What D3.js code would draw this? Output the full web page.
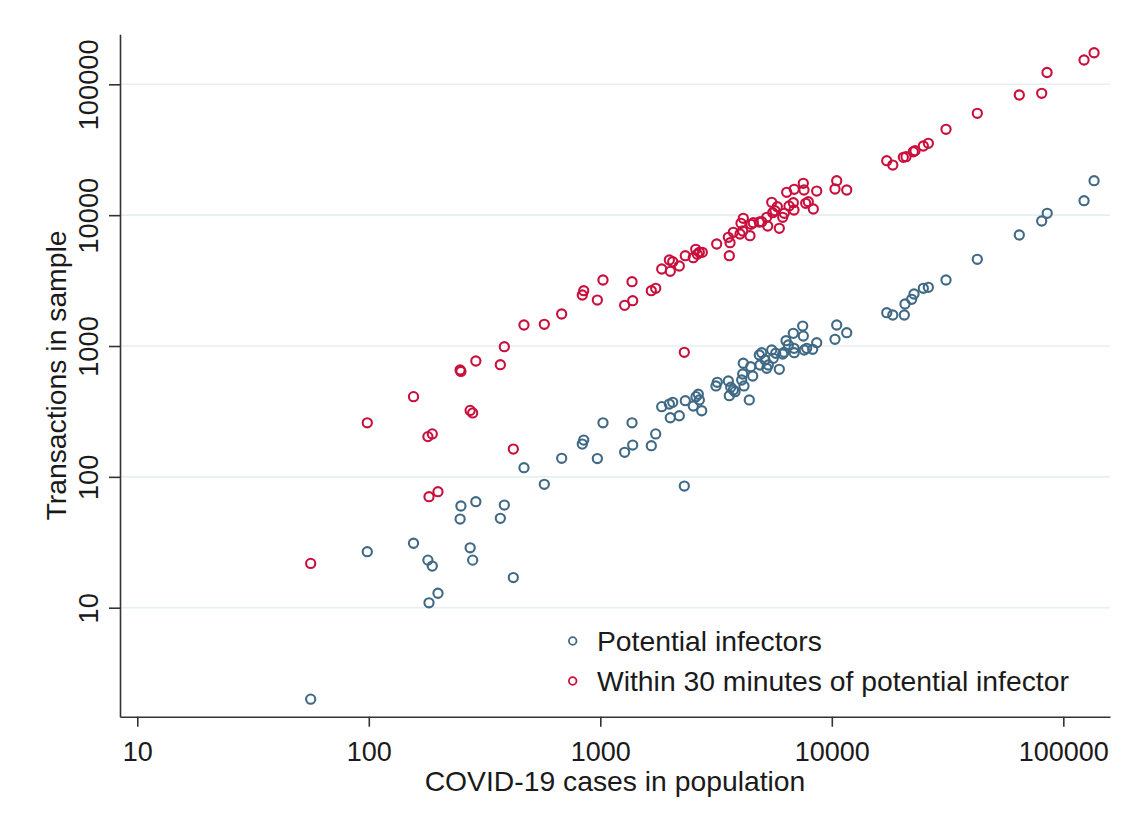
<!DOCTYPE html>
<html>
<head>
<meta charset="utf-8">
<script src="https://cdn.jsdelivr.net/npm/d3@7"></script>
<style>
  html, body { margin: 0; padding: 0; background: #ffffff; }
  svg { display: block; }
  text { font-family: "Liberation Sans", Arial, Helvetica, sans-serif; fill: #1a1a1a; }
</style>
</head>
<body>
<svg id="chart" width="1134" height="827"></svg>
<script>
// ---- data -------------------------------------------------------------
// Potential infectors: COVID-19 cases in population vs. transactions in sample
const infectorCases = [
  56.1, 98.5, 156, 180, 188, 182, 199, 248, 250, 274, 281, 290, 370, 385, 421, 468, 573, 681,
  836, 848, 971, 1027, 1274, 1380, 1371, 1661, 1735, 1842, 2006, 1987, 2055, 2194, 2329, 2306,
  2521, 2590, 2650, 2677, 2742, 3160, 3201, 3573, 3608, 3659, 3755, 3819, 4081, 4122, 4146, 4175,
  4401, 4553, 4463, 4863, 4897, 4981, 5146, 5234, 5318, 5501, 5588, 5724, 5933, 6137, 6216, 6342,
  6488, 6819, 6866, 6880, 7486, 7531, 7606, 7790, 8270, 8606, 10500, 10322, 11600,
  17270, 18340, 20570, 20710, 22130, 22650, 24850, 26120, 31140, 42510, 64540, 80660, 85200,
  122900, 135800
];
const infectorTransactions = [
  2.0, 26.8, 31.1, 23.1, 20.8, 10.9, 12.9, 47.6, 59.9, 28.7, 23.1, 64.6, 48.2, 60.9, 17.0, 117.5, 87.7, 138.6,
  178, 191, 138, 259, 154, 175, 259, 173, 213, 344, 283, 360, 371, 293, 382, 85.1,
  348, 410, 428, 387, 320, 495, 528, 540, 417, 484, 461, 448, 550, 611, 738, 495,
  387, 590, 695, 854, 716, 889, 782, 676, 716, 932, 805, 880, 664, 869, 895, 1098,
  1018, 1250, 960, 889, 1421, 1192, 932, 960, 944, 1060, 1447, 1125, 1264,
  1797, 1726, 1726, 2094, 2275, 2497, 2761, 2810, 3194, 4598, 7053, 9023, 10330,
  12900, 18340
];

// Transactions within 30 minutes of a potential infector
const nearbyCases = [
  56.1, 98.5, 156, 180, 188, 182, 199, 248, 250, 274, 281, 290, 370, 385, 421, 468, 573, 681,
  836, 848, 971, 1027, 1274, 1380, 1371, 1661, 1735, 1842, 2006, 1987, 2055, 2194, 2329, 2306,
  2521, 2583, 2624, 2677, 2758, 3182, 3573, 3634, 3608, 3755, 4013, 4053, 4146, 4122, 4432, 4477,
  4580, 4863, 4981, 5234, 5287, 5501, 5555, 5683, 5816, 5933, 6137, 6235, 6386, 6534, 6819, 6866,
  6880, 7531, 7583, 7713, 7915, 8320, 8606, 10500, 10322, 11600,
  17270, 18340, 20370, 20920, 22490, 22880, 24850, 26120, 31140, 42510, 64540, 80660, 85050,
  122900, 135800
];
const nearbyTransactions = [
  21.8, 259, 410, 203, 213, 70.5, 77.0, 656, 639, 322, 308, 768, 720, 988, 163, 1447, 1465, 1756,
  2454, 2646, 2246, 3194, 2046, 2219, 3100, 2646, 2761, 3876, 3723, 4543, 4408, 4087, 4899, 895,
  4730, 5483, 5021, 5202, 5202, 6020, 6773, 6157, 4899, 7395, 7177, 8664, 9461, 7569, 6966, 8512,
  8756, 8866, 8913, 9629, 8260, 12540, 10440, 10810, 11600, 7934, 9629, 10330, 14950, 11750, 12450, 10950,
  15760, 17520, 15570, 12320, 12670, 11140, 15290, 18340, 15840, 15570,
  26070, 24160, 27680, 27970, 30530, 31070, 33770, 35410, 45290, 60030, 82830, 85350, 123100,
  153400, 174300
];

const xTicks = [10, 100, 1000, 10000, 100000];
const yTicks = [10, 100, 1000, 10000, 100000];
const xLimits = [8.42, 159100];
const yLimits = [1.469, 241100];

const seriesNames = ["Potential infectors", "Within 30 minutes of potential infector"];
const seriesColors = ["#3f6985", "#c90f3c"];

// ---- layout -----------------------------------------------------------
const plot = { left: 120, right: 1110, top: 34.3, bottom: 716.7 };
const svg = d3.select("#chart");

const x = d3.scaleLog().domain(xLimits).range([plot.left, plot.right]);
const y = d3.scaleLog().domain(yLimits).range([plot.bottom, plot.top]);

// horizontal grid lines
svg.append("g")
  .selectAll("line")
  .data(yTicks)
  .join("line")
  .attr("x1", plot.left)
  .attr("x2", plot.right)
  .attr("y1", d => y(d))
  .attr("y2", d => y(d))
  .attr("stroke", "#e6eff1")
  .attr("stroke-width", 1.6);

// x axis
const xAxis = svg.append("g")
  .attr("transform", `translate(0,${plot.bottom})`)
  .call(d3.axisBottom(x).tickValues(xTicks).tickFormat(d3.format("d")).tickSize(10).tickSizeOuter(0));
xAxis.select(".domain").attr("stroke", "#333").attr("stroke-width", 1.6);
xAxis.selectAll(".tick line").attr("stroke", "#333").attr("stroke-width", 1.6);
xAxis.selectAll(".tick text")
  .attr("y", 44).attr("dy", null)
  .style("font-size", "27px")
  .style("font-family", "'Liberation Sans', Arial, sans-serif")
  .attr("fill", "#1a1a1a");

// y axis
const yAxis = svg.append("g")
  .attr("transform", `translate(${plot.left},0)`)
  .call(d3.axisLeft(y).tickValues(yTicks).tickFormat(d3.format("d")).tickSize(11).tickSizeOuter(0));
yAxis.select(".domain").attr("stroke", "#333").attr("stroke-width", 1.6);
yAxis.selectAll(".tick line").attr("stroke", "#333").attr("stroke-width", 1.6);
yAxis.selectAll(".tick text")
  .attr("transform", "rotate(-90)")
  .attr("x", 0).attr("y", -22).attr("dy", null)
  .attr("text-anchor", "middle")
  .style("font-size", "27.3px")
  .style("font-family", "'Liberation Sans', Arial, sans-serif")
  .attr("fill", "#1a1a1a");

// axis titles
svg.append("text")
  .attr("x", (plot.left + plot.right) / 2)
  .attr("y", 791)
  .attr("text-anchor", "middle")
  .style("font-size", "28.3px")
  .text("COVID-19 cases in population");

svg.append("text")
  .attr("transform", `translate(66,${(plot.top + plot.bottom) / 2}) rotate(-90)`)
  .attr("text-anchor", "middle")
  .style("font-size", "28.3px")
  .text("Transactions in sample");

// scatter markers (hollow circles)
const series = [
  { xs: infectorCases, ys: infectorTransactions },
  { xs: nearbyCases, ys: nearbyTransactions }
];
series.forEach((s, i) => {
  svg.append("g")
    .selectAll("circle")
    .data(d3.zip(s.xs, s.ys))
    .join("circle")
    .attr("cx", d => x(d[0]))
    .attr("cy", d => y(d[1]))
    .attr("r", 4.6)
    .attr("fill", "none")
    .attr("stroke", seriesColors[i])
    .attr("stroke-width", 2.1);
});

// legend
const legend = svg.append("g");
seriesNames.forEach((name, i) => {
  const cy = 641 + i * 40;
  legend.append("circle")
    .attr("cx", 572.7).attr("cy", cy).attr("r", 3.8)
    .attr("fill", "none")
    .attr("stroke", seriesColors[i])
    .attr("stroke-width", 1.8);
  legend.append("text")
    .attr("x", 597).attr("y", cy + 10)
    .style("font-size", "28.3px")
    .text(name);
});
</script>
</body>
</html>
